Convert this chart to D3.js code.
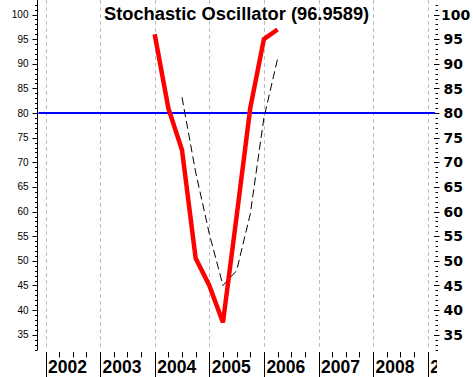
<!DOCTYPE html>
<html>
<head>
<meta charset="utf-8">
<script src="https://cdn.jsdelivr.net/npm/d3@7"></script>
<style>
html,body{margin:0;padding:0;background:#fff;overflow:hidden}
svg{display:block}
</style>
</head>
<body>
<svg id="chart" width="473" height="377"></svg>
<script>
const title = "Stochastic Oscillator (96.9589)";
const dates = [2004.0, 2004.25, 2004.5, 2004.75, 2005.0, 2005.25, 2005.5, 2005.75, 2006.0, 2006.25];
const kValues = [96, 81, 72.5, 50.5, 45, 37.5, 59, 81, 95, 96.9589];
const dDates = [2004.5, 2004.75, 2005.0, 2005.25, 2005.5, 2005.75, 2006.0, 2006.25];
const dValues = [83.2, 68, 55.5, 45, 48, 59.5, 79, 91];
const refLevel = 80;
const years = [2002, 2003, 2004, 2005, 2006, 2007, 2008, 2009];
const yTicks = [35, 40, 45, 50, 55, 60, 65, 70, 75, 80, 85, 90, 95, 100];

const svg = d3.select("#chart");
const x = d3.scaleLinear().domain([2002, 2009]).range([45.5, 427.7]);
const y = d3.scaleLinear().domain([31.9, 102.95]).range([350, 0]);
const plotL = 37.5, plotR = 435, plotB = 350;

// year gridlines
svg.append("g").selectAll("line").data(years).join("line")
  .attr("x1", d => Math.round(x(d)) + 0.5).attr("x2", d => Math.round(x(d)) + 0.5)
  .attr("y1", 0).attr("y2", plotB)
  .attr("stroke", "#bdbdbd").attr("stroke-width", 1).attr("stroke-dasharray", "4,3");

// left axis
const minorTicks = d3.range(32, 103, 1);
const lAxis = svg.append("g");
lAxis.append("line").attr("x1", plotL).attr("x2", plotL).attr("y1", 0).attr("y2", plotB)
  .attr("stroke", "#000");
lAxis.selectAll("line.mn").data(minorTicks).join("line").attr("class", "mn")
  .attr("x1", 35).attr("x2", plotL)
  .attr("y1", d => Math.round(y(d)) + 0.5).attr("y2", d => Math.round(y(d)) + 0.5)
  .attr("stroke", "#000");
lAxis.selectAll("line.mj").data(yTicks).join("line").attr("class", "mj")
  .attr("x1", 32.5).attr("x2", plotL)
  .attr("y1", d => Math.round(y(d)) + 0.5).attr("y2", d => Math.round(y(d)) + 0.5)
  .attr("stroke", "#000");
lAxis.selectAll("text").data(yTicks).join("text")
  .attr("x", 28.5).attr("y", d => y(d)).attr("dy", "0.35em")
  .attr("text-anchor", "end")
  .attr("font-family", "'Liberation Sans Narrow','Arial Narrow','Liberation Sans',sans-serif")
  .attr("font-size", 10).attr("fill", "#000")
  .text(d => d);

// right axis
const rAxis = svg.append("g");
rAxis.selectAll("line.mn").data(minorTicks).join("line").attr("class", "mn")
  .attr("x1", 435.5).attr("x2", 438)
  .attr("y1", d => Math.round(y(d)) + 0.5).attr("y2", d => Math.round(y(d)) + 0.5)
  .attr("stroke", "#000");
rAxis.selectAll("line.mj").data(yTicks).join("line").attr("class", "mj")
  .attr("x1", 434).attr("x2", 439.5)
  .attr("y1", d => Math.round(y(d)) + 0.5).attr("y2", d => Math.round(y(d)) + 0.5)
  .attr("stroke", "#000");
rAxis.selectAll("text").data(yTicks).join("text")
  .attr("x", d => String(d).length > 2 ? 441 : 443.5).attr("y", d => y(d)).attr("dy", "0.37em")
  .attr("font-family", "'DejaVu Sans',sans-serif").attr("font-weight", "bold")
  .attr("font-size", 14).attr("fill", "#000")
  .text(d => d);

// reference line
svg.append("line")
  .attr("x1", plotL + 1).attr("x2", plotR)
  .attr("y1", y(refLevel)).attr("y2", y(refLevel))
  .attr("stroke", "#0000ff").attr("stroke-width", 2);

// %D dashed line
const line = d3.line().x(d => x(d[0])).y(d => y(d[1]));
svg.append("path")
  .datum(dDates.map((d, i) => [d, dValues[i]]))
  .attr("d", line).attr("fill", "none")
  .attr("stroke", "#000").attr("stroke-width", 1).attr("stroke-dasharray", "8,4");

// %K red line
svg.append("path")
  .datum(dates.map((d, i) => [d, kValues[i]]))
  .attr("d", line).attr("fill", "none")
  .attr("stroke", "#ff0000").attr("stroke-width", 4.5).attr("stroke-linejoin", "miter");

// title
svg.append("text").attr("x", 104).attr("y", 19.5)
  .attr("font-family", "'Liberation Sans',Arial,sans-serif").attr("font-weight", "bold")
  .attr("font-size", 18.3).attr("fill", "#000")
  .text(title);

// bottom year axis
svg.append("clipPath").attr("id", "bclip").append("rect")
  .attr("x", 0).attr("y", 340).attr("width", 437).attr("height", 40);
const bAxis = svg.append("g").attr("clip-path", "url(#bclip)");
bAxis.selectAll("line.sep").data(years).join("line").attr("class", "sep")
  .attr("x1", d => Math.round(x(d)) + 0.5).attr("x2", d => Math.round(x(d)) + 0.5)
  .attr("y1", 352).attr("y2", 377).attr("stroke", "#000");
const quarters = [];
years.slice(0, -1).forEach(yr => [0.25, 0.5, 0.75].forEach(q => quarters.push(yr + q)));
bAxis.selectAll("line.q").data(quarters).join("line").attr("class", "q")
  .attr("x1", d => Math.round(x(d)) + 0.5).attr("x2", d => Math.round(x(d)) + 0.5)
  .attr("y1", 352).attr("y2", 357.5).attr("stroke", "#000");
bAxis.selectAll("text").data(years).join("text")
  .attr("x", d => x(d) + 2.5).attr("y", 373)
  .attr("font-family", "'Liberation Sans',Arial,sans-serif").attr("font-weight", "bold")
  .attr("font-size", 17.5).attr("fill", "#000")
  .text(d => d);
</script>
</body>
</html>
